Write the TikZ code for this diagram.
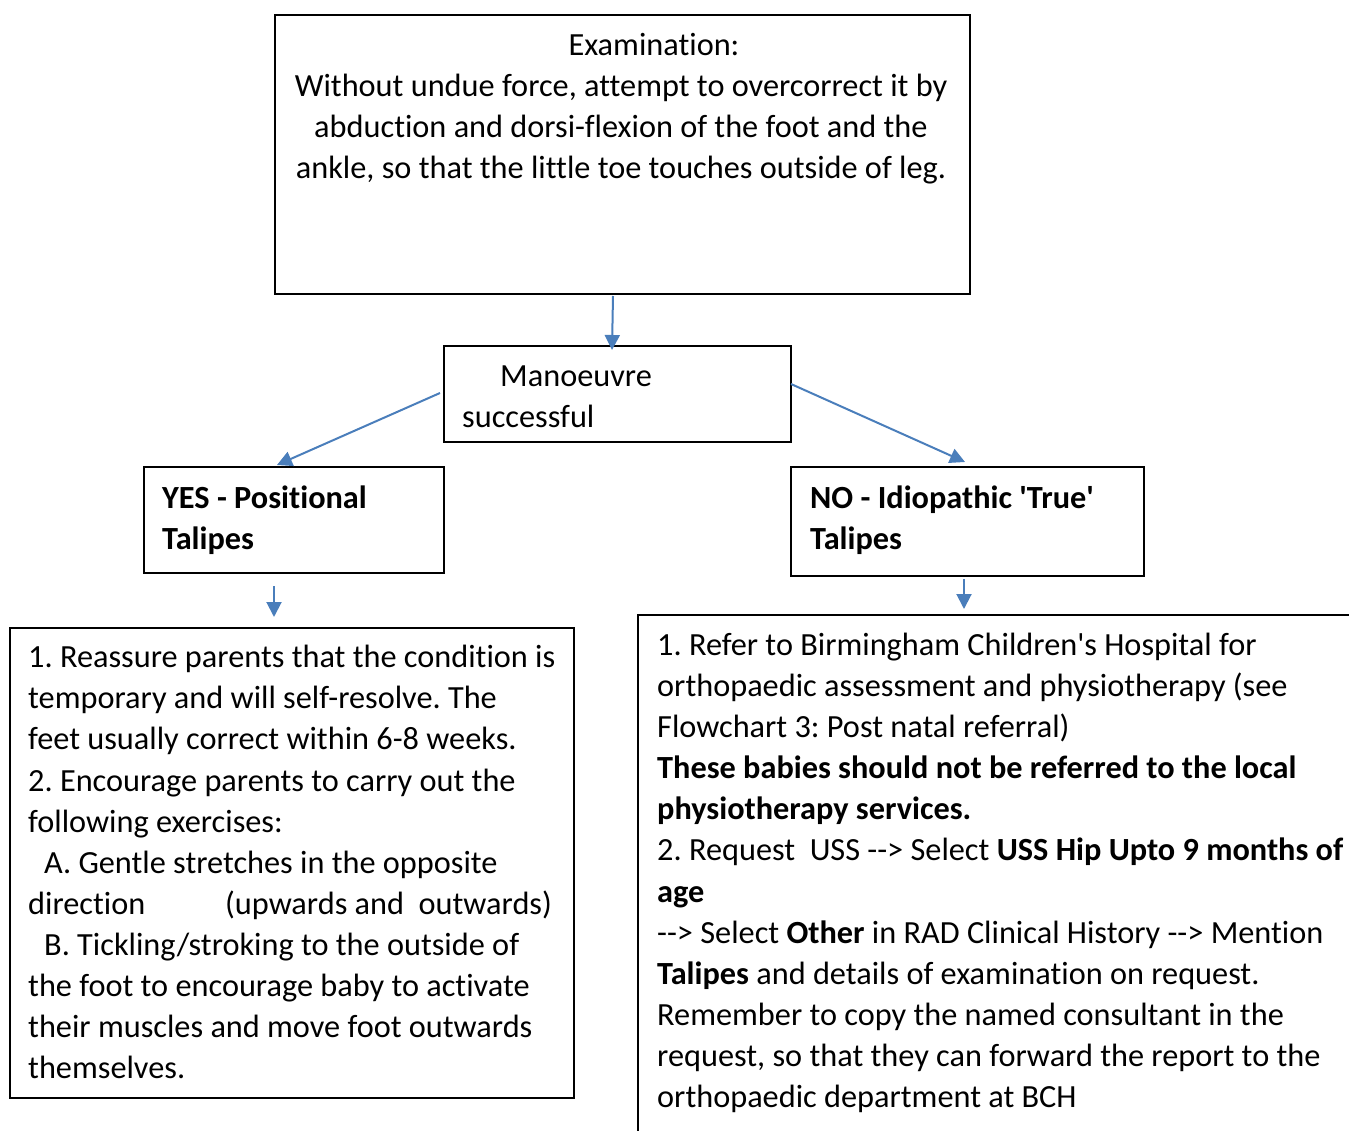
\documentclass[tikz,border=0pt]{standalone}
\usepackage{fontspec}
\setmainfont{Carlito}[Ligatures={NoCommon}]
\usetikzlibrary{arrows.meta}
\definecolor{arrowblue}{HTML}{4A7EBB}
\newcommand{\qs}{\textquotesingle}
\frenchspacing
\begin{document}
\begin{tikzpicture}[x=1pt,y=-1pt,
  box/.style={draw=black,line width=2pt,inner sep=0pt,anchor=north west},
  txt/.style={inner sep=0pt,anchor=base west,font=\fontsize{32.3}{41}\selectfont},
  ctxt/.style={inner sep=0pt,anchor=base,font=\fontsize{32.3}{41}\selectfont},
  flow/.style={draw=arrowblue,line width=2pt,-{Triangle[length=15pt,width=15pt]}}]
\useasboundingbox (0,0) rectangle (1349,1131);
% boxes
\node[box,minimum width=695pt,minimum height=279pt] (exam) at (274,14) {};
\node[box,minimum width=347pt,minimum height=96pt] (man) at (443,345) {};
\node[box,minimum width=300pt,minimum height=106pt] (yes) at (143,466) {};
\node[box,minimum width=353pt,minimum height=109pt] (no) at (790,466) {};
\node[box,minimum width=564pt,minimum height=470pt] (left) at (9,627) {};
\node[box,minimum width=730pt,minimum height=540pt] (right) at (637,614) {};
% exam text
\node[ctxt] (e1) at (654,56) {Examination:};
\node[ctxt] (e2) at (621,97) {Without undue force, attempt to overcorrect it by};
\node[ctxt] (e3) at (621,138) {abduction and dorsi-flexion of the foot and the};
\node[ctxt] (e4) at (621,179) {ankle, so that the little toe touches outside of leg.};
% manoeuvre
\node[txt] (m1) at (500,386) {Manoeuvre};
\node[txt] (m2) at (462,427) {successful};
% yes / no
\node[txt] (y1) at (162,508) {\textbf{YES - Positional}};
\node[txt] (y2) at (162,549) {\textbf{Talipes}};
\node[txt] (n1) at (810,508) {\textbf{NO - Idiopathic \qs True\qs}};
\node[txt] (n2) at (810,549) {\textbf{Talipes}};
% left text
\node[txt] (a1) at (28,667) {1. Reassure parents that the condition is};
\node[txt] (a2) at (28,708) {temporary and will self-resolve. The};
\node[txt] (a3) at (28,749) {feet usually correct within 6-8 weeks.};
\node[txt] (a4) at (28,791) {2. Encourage parents to carry out the};
\node[txt] (a5) at (28,832) {following exercises:};
\node[txt] (a6) at (44,873) {A. Gentle stretches in the opposite};
\node[txt] (a7) at (28,914) {direction};
\node[txt] (a7b) at (225,914) {(upwards and\ \ outwards)};
\node[txt] (a8) at (44,955) {B. Tickling/stroking to the outside of};
\node[txt] (a9) at (28,996) {the foot to encourage baby to activate};
\node[txt] (a10) at (28,1037) {their muscles and move foot outwards};
\node[txt] (a11) at (28,1078) {themselves.};
% right text
\node[txt] (b1) at (657,655) {1. Refer to Birmingham Children\qs s Hospital for};
\node[txt] (b2) at (657,696) {orthopaedic assessment and physiotherapy (see};
\node[txt] (b3) at (657,737) {Flowchart 3: Post natal referral)};
\node[txt] (b4) at (657,778) {\textbf{These babies should not be referred to the local}};
\node[txt] (b5) at (657,819) {\textbf{physiotherapy services.}};
\node[txt] (b6) at (657,860) {2. Request\ \ USS -{}-> Select \textbf{USS Hip Upto 9 months of}};
\node[txt] (b7) at (657,902) {\textbf{age}};
\node[txt] (b8) at (657,943) {-{}-> Select \textbf{Other} in RAD Clinical History -{}-> Mention};
\node[txt] (b9) at (657,984) {\textbf{Talipes} and details of examination on request.};
\node[txt] (b10) at (657,1025) {Remember to copy the named consultant in the};
\node[txt] (b11) at (657,1066) {request, so that they can forward the report to the};
\node[txt] (b12) at (657,1107) {orthopaedic department at BCH};
% connectors
\coordinate (c1s) at (613,296);
\coordinate (c1e) at (612,350);
\draw[flow] (c1s) -- (c1e);
\coordinate (c2s) at (440,393);
\coordinate (c2e) at (277,465);
\draw[flow] (c2s) -- (c2e);
\coordinate (c3s) at (791,384);
\coordinate (c3e) at (965,462);
\draw[flow] (c3s) -- (c3e);
\coordinate (c4s) at (274,586);
\coordinate (c4e) at (274,617);
\draw[flow] (c4s) -- (c4e);
\coordinate (c5s) at (964,579);
\coordinate (c5e) at (964,609);
\draw[flow] (c5s) -- (c5e);
\end{tikzpicture}
\end{document}
